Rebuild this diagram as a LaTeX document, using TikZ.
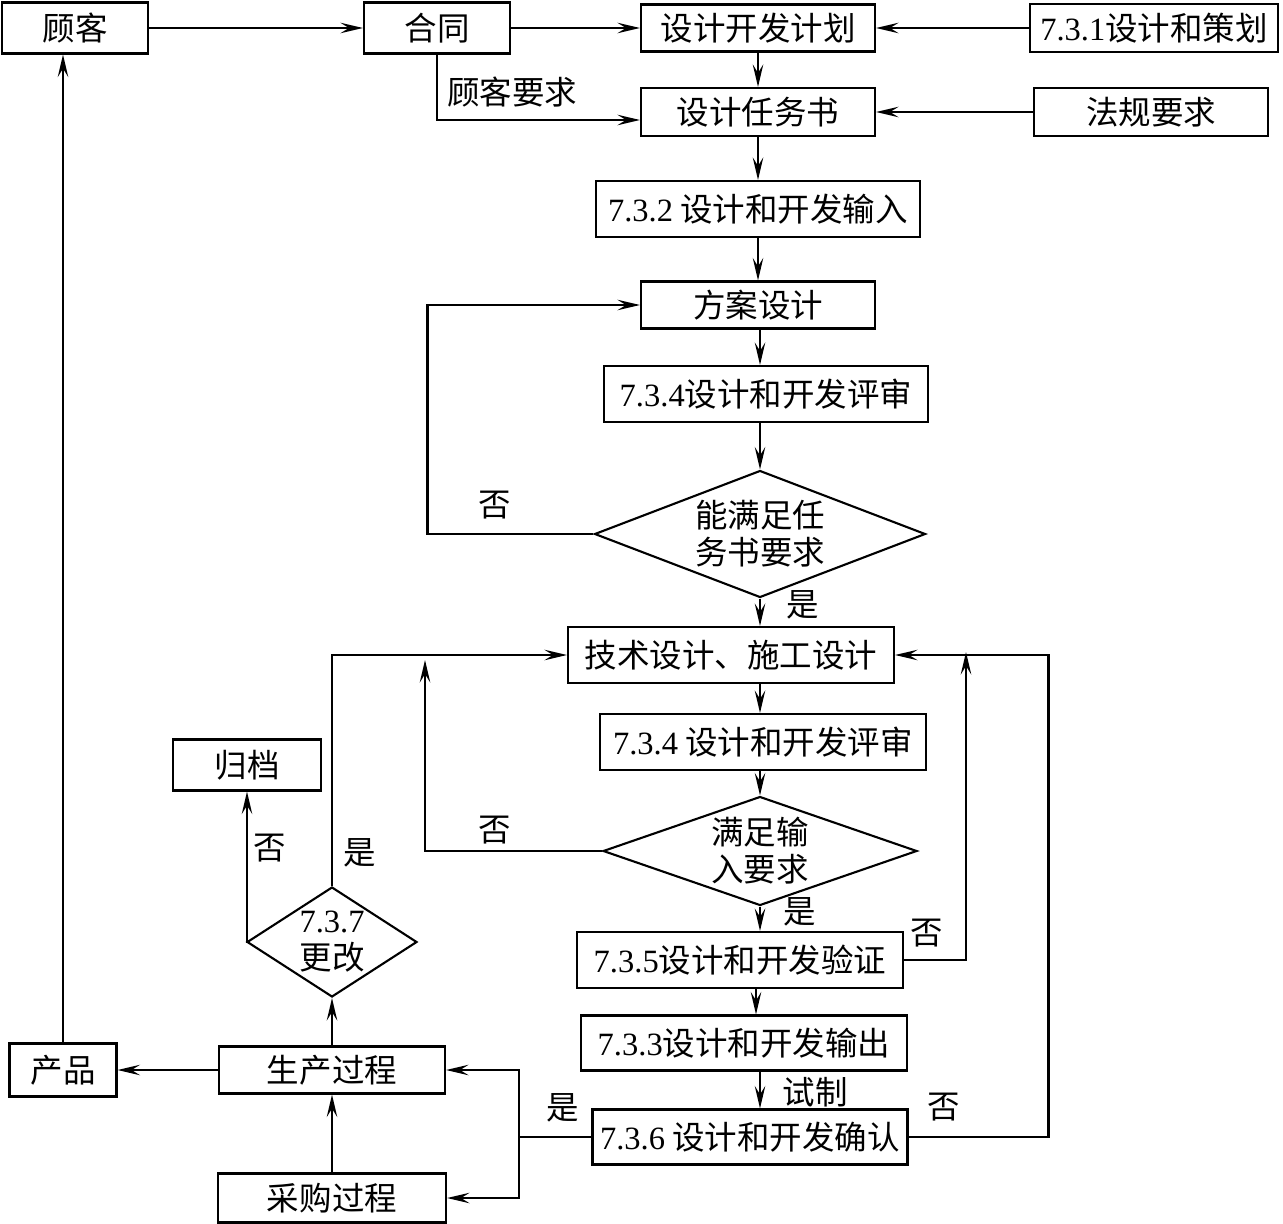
\documentclass[tikz,border=0pt]{standalone}
\usepackage{fontspec}
\setmainfont{Liberation Serif}
\newfontfamily\cjk{Noto Sans CJK SC}
\newfontfamily\numf{Liberation Serif}
\newcommand{\clause}[1]{{\numf #1}}
\usetikzlibrary{arrows.meta, shapes.geometric}

\begin{document}
\begin{tikzpicture}[
  x=0.02cm, y=-0.02cm,
  stepbox/.style={
    draw,
    line width=1.2pt,
    inner sep=0pt,
    align=center,
    font=\cjk\fontsize{18.5}{21}\selectfont
  },
  decision/.style={
    draw,
    diamond,
    line width=1.2pt,
    inner sep=0pt,
    align=center,
    font=\cjk\fontsize{18.5}{21}\selectfont
  },
  lbl/.style={inner sep=0pt, font=\cjk\fontsize{18.5}{21}\selectfont},
  arrow/.style={-{Stealth[length=4.5mm, width=2.1mm, inset=1.7mm]}, line width=1.2pt},
  link/.style={line width=1.2pt}
]
  \useasboundingbox (0,0) rectangle (1283,1223);

  % top row
  \node[stepbox, minimum width=2.92cm, minimum height=1.02cm] (cust) at (75,28) {顾客};
  \node[stepbox, minimum width=2.92cm, minimum height=1.02cm] (contract) at (437,28) {合同};
  \node[stepbox, minimum width=4.68cm, minimum height=0.94cm] (plan) at (758,28) {设计开发计划};
  \node[stepbox, minimum width=4.96cm, minimum height=0.96cm] (planning) at (1154,28) {\clause{7.3.1}设计和策划};
  \node[stepbox, minimum width=4.68cm, minimum height=0.96cm] (task) at (758,112) {设计任务书};
  \node[stepbox, minimum width=4.68cm, minimum height=0.96cm] (law) at (1151,112) {法规要求};

  % main column
  \node[stepbox, minimum width=6.48cm, minimum height=1.12cm] (input) at (758,209) {\clause{7.3.2} 设计和开发输入};
  \node[stepbox, minimum width=4.68cm, minimum height=0.94cm] (scheme) at (758,305) {方案设计};
  \node[stepbox, minimum width=6.48cm, minimum height=1.12cm] (review1) at (766,394) {\clause{7.3.4}设计和开发评审};
  \node[decision, shape aspect=2.6, minimum width=6.62cm, minimum height=2.54cm] (dec1) at (760,534) {能满足任\\务书要求};
  \node[stepbox, minimum width=6.52cm, minimum height=1.12cm] (tech) at (731,655) {技术设计、施工设计};
  \node[stepbox, minimum width=6.52cm, minimum height=1.12cm] (review2) at (763,742) {\clause{7.3.4} 设计和开发评审};
  \node[decision, shape aspect=2.88, minimum width=6.28cm, minimum height=2.18cm] (dec2) at (760,851) {满足输\\入要求};
  \node[stepbox, minimum width=6.52cm, minimum height=1.12cm] (verify) at (740,960) {\clause{7.3.5}设计和开发验证};
  \node[stepbox, minimum width=6.52cm, minimum height=1.10cm] (output) at (744,1043) {\clause{7.3.3}设计和开发输出};
  \node[stepbox, minimum width=6.30cm, minimum height=1.10cm] (valid) at (750,1137) {\clause{7.3.6} 设计和开发确认};

  % left side
  \node[stepbox, minimum width=2.96cm, minimum height=1.02cm] (archive) at (247,765) {归档};
  \node[decision, shape aspect=1.55, minimum width=3.40cm, minimum height=2.20cm] (change) at (332,942) {\clause{7.3.7}\\更改};
  \node[stepbox, minimum width=2.14cm, minimum height=1.06cm] (product) at (63,1070) {产品};
  \node[stepbox, minimum width=4.52cm, minimum height=0.94cm] (prod) at (332,1070) {生产过程};
  \node[stepbox, minimum width=4.56cm, minimum height=0.98cm] (purch) at (332,1198) {采购过程};

  % junctions
  \coordinate (joinl) at (425,660);
  \coordinate (joinr) at (966,652);
  \coordinate (split) at (519,1137);

  % labels
  \node[lbl] (reqlbl) at (512,92) {顾客要求};
  \node[lbl] (no1) at (495,505) {否};
  \node[lbl] (yes1) at (803,605) {是};
  \node[lbl] (no2) at (495,830) {否};
  \node[lbl] (yes2) at (800,912) {是};
  \node[lbl] (no3) at (927,933) {否};
  \node[lbl] (trial) at (815,1092) {试制};
  \node[lbl] (no4) at (944,1107) {否};
  \node[lbl] (yes3) at (563,1108) {是};
  \node[lbl] (no5) at (270,848) {否};
  \node[lbl] (yes5) at (360,853) {是};

  % top connectors
  \draw[arrow] (cust) -- (contract);
  \draw[arrow] (contract) -- (plan);
  \draw[arrow] (planning) -- (plan);
  \draw[arrow] (law) -- (task);
  \draw[arrow] (contract.south) |- ([yshift=-0.16cm]task.west);

  % main column connectors
  \draw[arrow] (plan) -- (task);
  \draw[arrow] (task) -- (input);
  \draw[arrow] (input) -- (scheme);
  \draw[arrow] (scheme.south -| dec1) -- (review1.north -| dec1);
  \draw[arrow] (review1.south -| dec1) -- (dec1.north);
  \draw[arrow] (dec1.south) -- (tech.north -| dec1);
  \draw[arrow] (tech.south -| dec2) -- (review2.north -| dec2);
  \draw[arrow] (review2.south -| dec2) -- (dec2.north);
  \draw[arrow] (dec2.south) -- (verify.north -| dec2);
  \draw[arrow] (verify.south -| 756,0) -- (output.north -| 756,0);
  \draw[arrow] (output.south -| dec2) -- (valid.north -| dec2);

  % loops back
  \draw[arrow] (dec1.west) -- ++(-166,0) |- (scheme.west);
  \draw[arrow] (dec2.west) -| (joinl);
  \draw[arrow] (change.north) |- (tech.west);
  \draw[arrow] (verify.east) -| (joinr);
  \draw[arrow] (valid.east) -- ++(140,0) |- (tech.east);

  % production
  \draw[link] (valid.west) -- (split);
  \draw[arrow] (split) |- (prod.east);
  \draw[arrow] (split) |- (purch.east);
  \draw[arrow] (purch) -- (prod);
  \draw[arrow] (prod) -- (change.south);
  \draw[arrow] (change.west) -| (archive.south);
  \draw[arrow] (prod) -- (product);
  \draw[arrow] (product.north) -- (product.north |- cust.south);
\end{tikzpicture}
\end{document}
